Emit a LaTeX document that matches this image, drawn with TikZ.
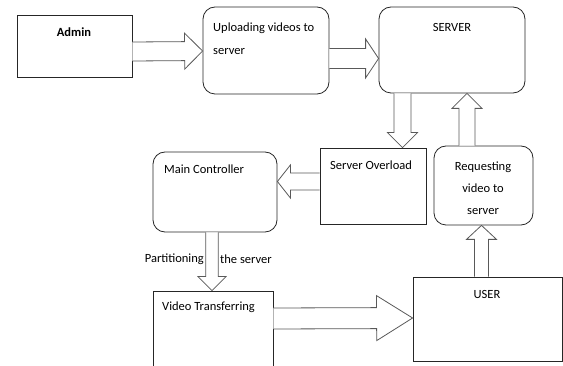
\documentclass[tikz,border=0pt]{standalone}
\usepackage{fontspec}
\setmainfont{Carlito}
\usetikzlibrary{calc}

% Hollow block arrow: #1 tail, #2 tip, #3 shaft half-width, #4 head half-width, #5 head length
\newcommand{\blockarrow}[5]{%
  \coordinate (ba-h) at ($(#2)!#5!(#1)$);
  \filldraw[barrow]
    ($(#1)!#3!90:(#2)$) -- ($(ba-h)!#3!90:(#2)$) -- ($(ba-h)!#4!90:(#2)$) -- (#2)
    -- ($(ba-h)!#4!-90:(#2)$) -- ($(ba-h)!#3!-90:(#2)$) -- ($(#1)!#3!-90:(#2)$);
}

\begin{document}
\begin{tikzpicture}[x=1pt,y=-1pt,
  box/.style={draw=black!85, line width=0.8pt, rectangle, inner sep=0pt, fill=white},
  rbox/.style={box, rounded corners=12pt},
  barrow/.style={draw=black!65, fill=white, line width=0.8pt, line join=miter},
  txt/.style={font=\fontsize{12.5}{15}\selectfont, text=black, inner sep=0pt}]
\useasboundingbox (0,0) rectangle (563,366);

% boxes
\node[box,  minimum width=115pt, minimum height=62pt] (admin)  at (74.5,46) {};
\node[rbox, minimum width=126pt, minimum height=87pt] (upl)    at (266,50.5) {};
\node[rbox, minimum width=146pt, minimum height=86pt] (server) at (452,50) {};
\node[rbox, minimum width=124pt, minimum height=80pt] (mc)     at (215,192) {};
\node[box,  minimum width=106pt, minimum height=76pt] (so)     at (373,186) {};
\node[rbox, minimum width=99pt,  minimum height=79pt] (req)    at (483.5,185.5) {};
\node[box,  minimum width=120pt, minimum height=80pt] (vt)     at (213,331) {};
\node[box,  minimum width=149pt, minimum height=84pt] (user)   at (487.5,319) {};

% texts
\node[txt, font=\fontsize{12.5}{15}\selectfont\bfseries] (t-admin) at (74,32) {Admin};
\node[txt, anchor=west] (t-upl1) at (213,28) {Uploading videos to};
\node[txt, anchor=west] (t-upl2) at (213,52) {server};
\node[txt] (t-server) at (452,27) {SERVER};
\node[txt, anchor=west] (t-mc) at (164,169) {Main Controller};
\node[txt, anchor=west] (t-so) at (330,165) {Server Overload};
\node[txt, align=center] (t-req) at (483,188.5) {Requesting\\[7pt]video to\\[7pt]server};
\node[txt, anchor=west] (t-vt) at (162,307) {Video Transferring};
\node[txt] (t-user) at (487,294) {USER};
\node[txt, anchor=east] (t-part1) at (204,259) {Partitioning};
\node[txt, anchor=west] (t-part2) at (220,259) {the server};

% connector ends
\coordinate (a1s) at ([yshift=-5.5pt]admin.east);
\coordinate (a1e) at ([yshift=-0.5pt]upl.west);
\coordinate (a2s) at ([yshift=-8pt]upl.east);
\coordinate (a2e) at ([yshift=-8.5pt]server.west);
\coordinate (a3s) at ([xshift=-49.5pt]server.south);
\coordinate (a3e) at ([xshift=29.5pt]so.north);
\coordinate (a4s) at ([yshift=4.5pt]so.west);
\coordinate (a4e) at ([yshift=10.5pt]mc.east);
\coordinate (a5s) at ([xshift=-3pt]mc.south);
\coordinate (a5e) at ([xshift=-1pt]vt.north);
\coordinate (a6s) at ([xshift=-16.5pt]req.north);
\coordinate (a6e) at ([xshift=15pt]server.south);
\coordinate (a7s) at ([xshift=-6pt]user.north);
\coordinate (a7e) at ([xshift=-2pt]req.south);
\coordinate (a8s) at ([yshift=12.5pt]vt.east);
\coordinate (a8e) at ([yshift=1pt]user.west);

% block arrows
\blockarrow{a1s}{a1e}{9.5pt}{18pt}{18pt}
\blockarrow{a2s}{a2e}{10pt}{19.5pt}{13pt}
\blockarrow{a3s}{a3e}{8.5pt}{15pt}{15pt}
\blockarrow{a4s}{a4e}{8.5pt}{16.5pt}{13pt}
\blockarrow{a5s}{a5e}{6.3pt}{14pt}{14pt}
\blockarrow{a6s}{a6e}{8pt}{15pt}{15pt}
\blockarrow{a7s}{a7e}{7pt}{15pt}{14pt}
\blockarrow{a8s}{a8e}{10.5pt}{22.5pt}{36pt}
\end{tikzpicture}
\end{document}
